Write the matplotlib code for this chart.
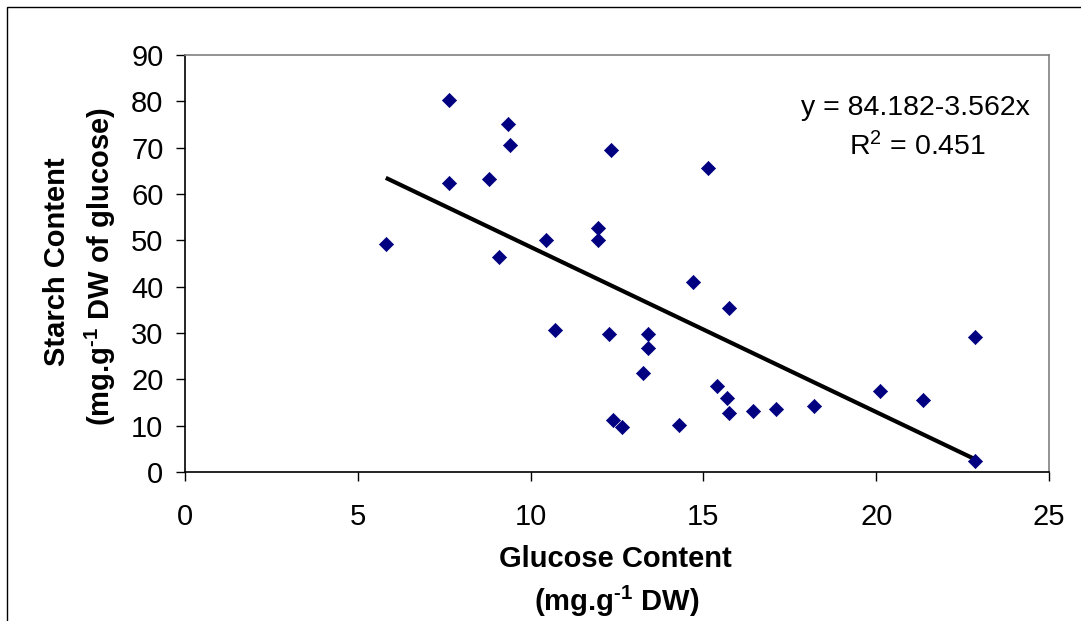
import matplotlib
matplotlib.use("Agg")
import matplotlib.pyplot as plt
from matplotlib.patches import Rectangle

plt.rcParams['font.family'] = ['Liberation Sans', 'DejaVu Sans']
plt.rcParams['mathtext.fontset'] = 'custom'
plt.rcParams['mathtext.rm'] = 'Liberation Sans'
plt.rcParams['mathtext.it'] = 'Liberation Sans'
plt.rcParams['mathtext.bf'] = 'Liberation Sans:bold'

# Data
glucose = [5.81, 7.64, 7.64, 8.81, 9.08, 9.34, 9.40, 10.44, 10.71, 11.94,
           11.94, 12.34, 12.28, 12.39, 12.65, 13.25, 13.39, 13.39, 14.29, 14.69,
           15.14, 15.40, 15.67, 15.73, 15.73, 16.44, 17.10, 18.21, 20.10, 21.35,
           22.85, 22.85]
starch = [49.2, 80.3, 62.3, 63.3, 46.3, 75.0, 70.6, 50.1, 30.6, 52.7,
          50.1, 69.6, 29.7, 11.2, 9.7, 21.4, 29.7, 26.7, 10.2, 40.9,
          65.7, 18.6, 16.0, 35.5, 12.7, 13.2, 13.7, 14.2, 17.5, 15.6,
          29.2, 2.4]
intercept = 84.182
slope = -3.562
r2 = 0.451

x_ticks = [0, 5, 10, 15, 20, 25]
y_ticks = [0, 10, 20, 30, 40, 50, 60, 70, 80, 90]

W, H = 1081, 621
fig = plt.figure(figsize=(W / 100, H / 100), dpi=100)
fig.patch.set_facecolor('white')

# outer frame (cropped on right/bottom)
fig.patches.append(Rectangle((7 / W, -0.1), 1.2, 1 - 7 / H + 0.1, transform=fig.transFigure,
                             fill=False, edgecolor='black', linewidth=1.0))

left, right, top, bottom = 185 / W, 1049 / W, 55 / H, 472 / H
ax = fig.add_axes([left, 1 - bottom, right - left, bottom - top])

ax.scatter(glucose, starch, marker='D', s=52, color='#000080', edgecolors='#000080',
           linewidths=0.5, zorder=3)

xmin, xmax = min(glucose), max(glucose)
ax.plot([xmin, xmax], [intercept + slope * xmin, intercept + slope * xmax],
        color='black', linewidth=3.0, zorder=2, solid_capstyle='butt')

ax.set_xlim(0, 25)
ax.set_ylim(0, 90)
ax.set_xticks(x_ticks)
ax.set_yticks(y_ticks)
ax.set_xticklabels([str(t) for t in x_ticks])
ax.set_yticklabels([str(t) for t in y_ticks])
ax.tick_params(axis='both', direction='out', length=6.5, width=1.0, color='black',
               labelsize=21, colors='black')
ax.tick_params(axis='x', pad=16)
ax.tick_params(axis='y', pad=9)
for s in ['left', 'bottom']:
    ax.spines[s].set_color('black')
    ax.spines[s].set_linewidth(1.2)
for s in ['top', 'right']:
    ax.spines[s].set_color('#808080')
    ax.spines[s].set_linewidth(1.2)

ax.text(0.845, 0.856, f"y = {intercept:.3f}{slope:.3f}x", transform=ax.transAxes,
        ha='center', va='baseline', fontsize=20.5)
ax.text(0.848, 0.760, f"R$^{{2}}$ = {r2:.3f}", transform=ax.transAxes,
        ha='center', va='baseline', fontsize=20.5)

sup = r"$^{\mathbf{\u2010 1}}$".replace(r"\u2010", "\u2010")

# axis titles
fig.text(615 / W, 1 - 567 / H, "Glucose Content", ha='center', va='baseline',
         fontsize=21, fontweight='bold')
fig.text(617 / W, 1 - 611 / H, "(mg.g" + sup + " DW)", ha='center', va='baseline',
         fontsize=21, fontweight='bold')
fig.text(57 / W, 1 - 262 / H, "Starch Content", ha='center', va='center',
         fontsize=21, fontweight='bold', rotation=90)
fig.text(100 / W, 1 - 266 / H, "(mg.g" + sup + " DW of glucose)", ha='center',
         va='center', fontsize=21, fontweight='bold', rotation=90)

fig.savefig('out.png', dpi=100, facecolor='white')
